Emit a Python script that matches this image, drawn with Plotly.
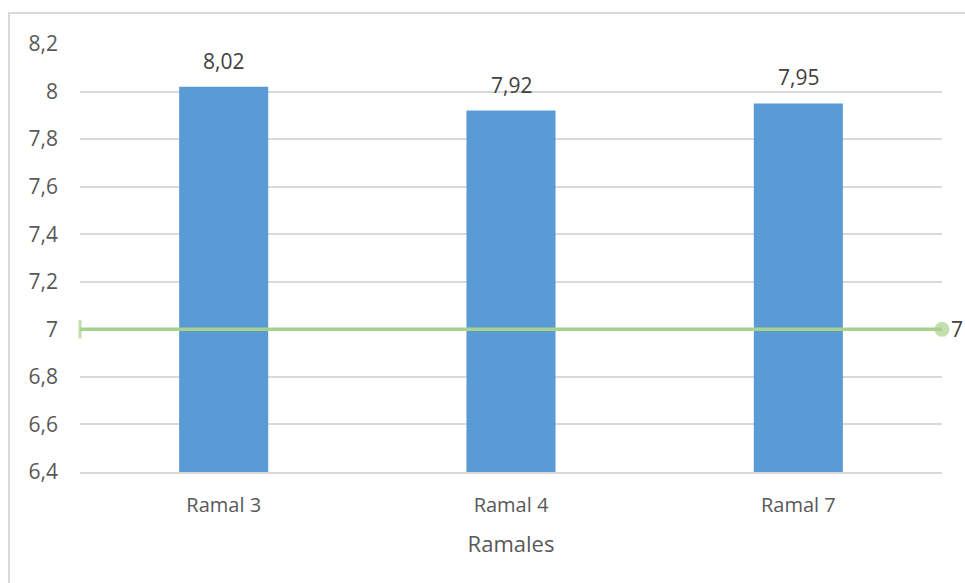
import plotly.graph_objects as go

categories = ["Ramal 3", "Ramal 4", "Ramal 7"]
values = [8.02, 7.92, 7.95]
limit_value = 7
y_ticks = [6.4, 6.6, 6.8, 7.0, 7.2, 7.4, 7.6, 7.8, 8.0, 8.2]
y_tick_labels = ["6,4", "6,6", "6,8", "7", "7,2", "7,4", "7,6", "7,8", "8", "8,2"]

FONT = "Open Sans"
TXT = "#595959"
x_pos = list(range(len(categories)))
x_lo, x_hi = -0.5, len(categories) - 0.5

W, H = 965, 583
L, R, T, B = 80, 23, 44, 111
PW, PH = W - L - R, H - T - B

fig = go.Figure()
fig.add_trace(go.Bar(
    x=x_pos, y=values, width=0.31,
    marker=dict(color="#5B9BD5", line=dict(width=0)),
    showlegend=False, hoverinfo="x+y",
))
fig.add_trace(go.Scatter(
    x=[x_lo, x_hi], y=[limit_value, limit_value],
    mode="lines+markers",
    line=dict(color="#A9D18E", width=3.5),
    marker=dict(symbol=["line-ns", "circle"], size=[13, 15], color="#A9D18E",
                line=dict(color="#A9D18E", width=[3, 0])),
    cliponaxis=False, showlegend=False,
))

annotations = [
    dict(x=xp, y=v, xref="x", yref="y", text=f"{v:.2f}".replace(".", ","),
         showarrow=False, yanchor="bottom", yshift=10,
         font=dict(family=FONT, size=21, color="#404040"))
    for xp, v in zip(x_pos, values)
]
annotations.append(dict(
    x=x_hi, y=limit_value, xref="x", yref="y", text=str(limit_value),
    showarrow=False, xanchor="left", xshift=7,
    font=dict(family=FONT, size=21, color="#404040"),
))

fig.update_layout(
    width=W, height=H,
    margin=dict(l=L, r=R, t=T, b=B),
    paper_bgcolor="white", plot_bgcolor="white",
    font=dict(family=FONT, color=TXT),
    annotations=annotations,
    xaxis=dict(
        tickmode="array", tickvals=x_pos, ticktext=categories,
        range=[x_lo, x_hi], showgrid=False, zeroline=False,
        showline=True, linecolor="#D9D9D9", linewidth=2,
        ticks="", ticklabelstandoff=14,
        tickfont=dict(family=FONT, size=20, color=TXT),
        title=dict(text="Ramales", font=dict(family=FONT, size=22, color=TXT), standoff=20),
    ),
    yaxis=dict(
        range=[6.4, 8.2], tickmode="array", tickvals=y_ticks, ticktext=y_tick_labels,
        showgrid=True, gridcolor="#D9D9D9", gridwidth=2, zeroline=False,
        showline=False, ticks="", ticklabelstandoff=21,
        tickfont=dict(family=FONT, size=21, color=TXT),
    ),
    shapes=[dict(
        type="rect", xref="paper", yref="paper",
        x0=(9 - L) / PW, x1=(W + 20 - L) / PW,
        y0=-(H + 20 - (T + PH)) / PH, y1=(T + PH - 13) / PH,
        line=dict(color="#D9D9D9", width=2), fillcolor="rgba(0,0,0,0)", layer="below",
    )],
)

fig.write_html(
    "out.html",
    config={"displayModeBar": False},
    post_script="document.body.style.margin='0';document.body.style.overflow='hidden';",
)
